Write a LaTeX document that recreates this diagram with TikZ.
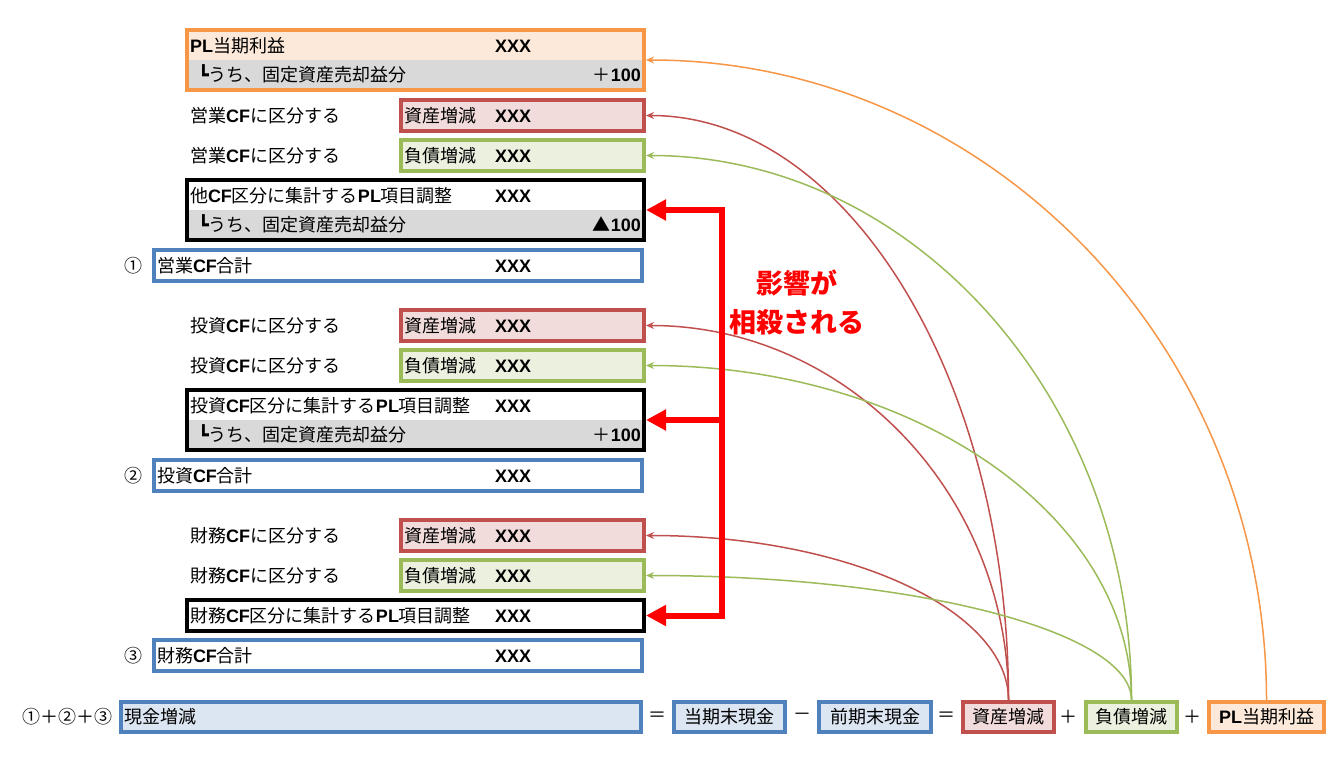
\documentclass[tikz,border=0pt]{standalone}
\usepackage{fontspec}
\setmainfont{Noto Sans CJK JP}
\newfontfamily\arialfont{Liberation Sans}
\newfontfamily\boxfont{DejaVu Sans}
\usetikzlibrary{positioning,fit,calc,arrows.meta}

\definecolor{orgC}{HTML}{F79646}
\definecolor{orgF}{HTML}{FDE9D9}
\definecolor{redC}{HTML}{C0504D}
\definecolor{redF}{HTML}{F2DCDB}
\definecolor{grnC}{HTML}{9BBB59}
\definecolor{grnF}{HTML}{EBF1DE}
\definecolor{bluC}{HTML}{4F81BD}
\definecolor{bluF}{HTML}{DCE6F2}
\definecolor{grayF}{HTML}{D9D9D9}

\newcommand{\arb}[1]{{\arialfont\bfseries #1}}
\newcommand{\xlab}[2][305pt]{\makebox[#1][l]{#2}\arb{XXX}}
\newcommand{\uchi}[1]{\hspace{8pt}{\boxfont ┗}うち、固定資産売却益分\hfill#1\hspace{8pt}}
\newcommand{\arcto}[3]{\draw[#1] (#2) .. controls ($(#2)!0.552!(#2 |- #3)$) and ($(#3)!0.552!(#2 |- #3)$) .. (#3);}

\tikzset{
  every node/.style={font=\fontsize{18}{22}\selectfont},
  lbl/.style={anchor=west, inner sep=0pt},
  cellrow/.style={minimum height=28pt, text width=451pt, inner xsep=1pt, inner ysep=0pt, align=left, outer sep=0pt},
  grp/.style={draw=#1, line width=4pt, inner sep=2pt},
  sbox/.style 2 args={draw=#1, fill=#2, line width=4pt, minimum height=31pt, inner xsep=3pt, inner ysep=0pt, text width=237pt, align=left},
  tbox/.style={draw=bluC, fill=white, line width=4pt, minimum height=31pt, inner xsep=3pt, inner ysep=0pt, text width=482pt, align=left},
  ebox/.style 2 args={draw=#1, fill=#2, line width=4pt, minimum height=30pt, inner xsep=2pt, inner ysep=0pt},
  link/.style={line width=1.5pt, -{Stealth[length=8pt,width=7pt]}},
  offsetarrow/.style={draw=red, line width=6pt, line join=miter}
}

\begin{document}
\begin{tikzpicture}[x=1pt,y=-1pt]
\useasboundingbox (0,0) rectangle (1341,761);
% PL
\node[cellrow, fill=orgF] (plA) at (415.5,46) {\xlab{\arb{PL}当期利益}};
\node[cellrow, fill=grayF] (plB) at (415.5,74) {\uchi{＋\arb{100}}};
\node[grp=orgC, fit=(plA)(plB)] (pl) {};
% operating
\node[lbl] (opL1) at (190,115.5) {営業\arb{CF}に区分する};
\node[sbox={redC}{redF}] (opAst) at (522.5,115.5) {\xlab[91pt]{資産増減}};
\node[lbl] (opL2) at (190,155.5) {営業\arb{CF}に区分する};
\node[sbox={grnC}{grnF}] (opLia) at (522.5,155.5) {\xlab[91pt]{負債増減}};
\node[cellrow] (opAdjA) at (415.5,196) {\xlab{他\arb{CF}区分に集計する\arb{PL}項目調整}};
\node[cellrow, fill=grayF] (opAdjB) at (415.5,224) {\uchi{▲\arb{100}}};
\node[grp=black, fit=(opAdjA)(opAdjB)] (opAdj) {};
\node (opNo) at (133,265.5) {①};
\node[tbox] (opTot) at (398,265.5) {\xlab[338pt]{営業\arb{CF}合計}};
% investing
\node[lbl] (ivL1) at (190,325.5) {投資\arb{CF}に区分する};
\node[sbox={redC}{redF}] (ivAst) at (522.5,325.5) {\xlab[91pt]{資産増減}};
\node[lbl] (ivL2) at (190,365.5) {投資\arb{CF}に区分する};
\node[sbox={grnC}{grnF}] (ivLia) at (522.5,365.5) {\xlab[91pt]{負債増減}};
\node[cellrow] (ivAdjA) at (415.5,406) {\xlab{投資\arb{CF}区分に集計する\arb{PL}項目調整}};
\node[cellrow, fill=grayF] (ivAdjB) at (415.5,434) {\uchi{＋\arb{100}}};
\node[grp=black, fit=(ivAdjA)(ivAdjB)] (ivAdj) {};
\node (ivNo) at (133,475.5) {②};
\node[tbox] (ivTot) at (398,475.5) {\xlab[338pt]{投資\arb{CF}合計}};
% financing
\node[lbl] (fnL1) at (190,535.5) {財務\arb{CF}に区分する};
\node[sbox={redC}{redF}] (fnAst) at (522.5,535.5) {\xlab[91pt]{資産増減}};
\node[lbl] (fnL2) at (190,575.5) {財務\arb{CF}に区分する};
\node[sbox={grnC}{grnF}] (fnLia) at (522.5,575.5) {\xlab[91pt]{負債増減}};
\node[sbox={black}{white}, text width=451pt] (fnAdj) at (415.5,615.5) {\xlab{財務\arb{CF}区分に集計する\arb{PL}項目調整}};
\node (fnNo) at (133,655.5) {③};
\node[tbox] (fnTot) at (398,655.5) {\xlab[338pt]{財務\arb{CF}合計}};
% bottom line
\node (sumL) at (67,717) {①＋②＋③};
\node[ebox={bluC}{bluF}, text width=514pt, inner xsep=3pt, align=left] (cash) at (381,717) {現金増減};
\node (eq1) at (657,717) {＝};
\node[ebox={bluC}{bluF}, minimum width=111pt] (endCash) at (729.5,717) {当期末現金};
\node (minus) at (802,717) {－};
\node[ebox={bluC}{bluF}, minimum width=112pt] (begCash) at (875,717) {前期末現金};
\node (eq2) at (946,717) {＝};
\node[ebox={redC}{redF}, minimum width=91pt] (dAst) at (1008.5,717) {資産増減};
\node (plus1) at (1068,717) {＋};
\node[ebox={grnC}{grnF}, minimum width=91pt] (dLia) at (1131.5,717) {負債増減};
\node (plus2) at (1192,717) {＋};
\node[ebox={orgC}{orgF}, minimum width=115pt] (dPL) at (1266.5,717) {\arb{PL}当期利益};
% links
\arcto{link, redC}{dAst.north}{opAst.east}
\arcto{link, redC}{dAst.north}{ivAst.east}
\arcto{link, redC}{dAst.north}{fnAst.east}
\arcto{link, grnC}{dLia.north}{opLia.east}
\arcto{link, grnC}{dLia.north}{ivLia.east}
\arcto{link, grnC}{dLia.north}{fnLia.east}
\arcto{link, orgC}{dPL.north}{pl.east}
% offset
\coordinate (bus) at (722,420);
\draw[offsetarrow, {Triangle[length=20pt,width=20pt]}-{Triangle[length=20pt,width=20pt]}] (opAdj.east) -- (bus |- opAdj.east) -- (bus |- fnAdj.east) -- (fnAdj.east);
\draw[offsetarrow, -{Triangle[length=20pt,width=20pt]}] (bus |- ivAdj.east) -- (ivAdj.east);
\node[text=red, font=\fontsize{27}{39}\selectfont\bfseries, align=center] (note) at (797,302) {影響が\\相殺される};
\end{tikzpicture}
\end{document}
